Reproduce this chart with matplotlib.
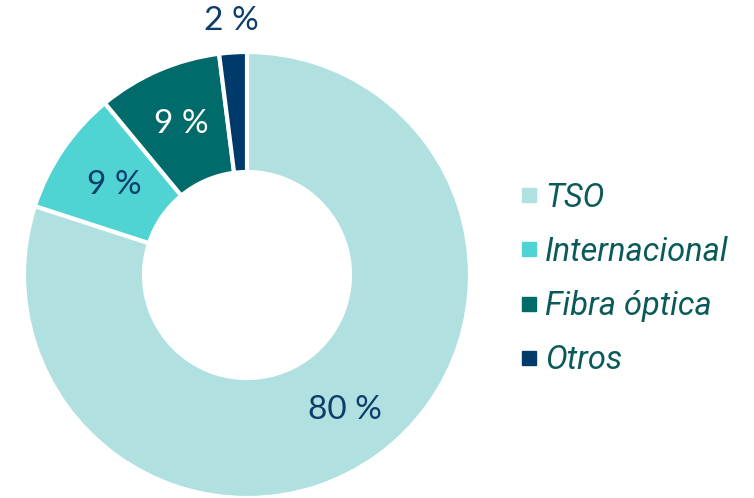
import matplotlib
matplotlib.use("Agg")
import matplotlib.pyplot as plt
from matplotlib.lines import Line2D
import numpy as np

categories = ["TSO", "Internacional", "Fibra óptica", "Otros"]
values = [80, 9, 9, 2]
pct_labels = ["80 %", "9 %", "9 %", "2 %"]
colors = ["#b0e0e0", "#4fd3d3", "#016b6b", "#003a6b"]
label_colors = ["#0d3d6b", "#0d3d6b", "#ffffff", "#0d3d6b"]
label_radius = [0.75, 0.72, 0.74, 1.14]

W, H = 754, 498
fig = plt.figure(figsize=(W / 100, H / 100), dpi=100)
cx, cy, r = 247, 275, 223
ax = fig.add_axes([(cx - r) / W, (H - cy - r) / H, 2 * r / W, 2 * r / H])

wedges, _ = ax.pie(values, colors=colors, startangle=90, counterclock=False,
                   radius=1, wedgeprops=dict(width=120 / 223, edgecolor="white", linewidth=3))
ax.set_xlim(-1, 1)
ax.set_ylim(-1, 1)
ax.set_aspect("equal")
ax.axis("off")

for w, lab, col, rr in zip(wedges, pct_labels, label_colors, label_radius):
    ang = np.deg2rad((w.theta1 + w.theta2) / 2)
    ax.text(rr * np.cos(ang), rr * np.sin(ang), lab, ha="center", va="center",
            color=col, fontsize=24, family="Lato", clip_on=False)

handles = [Line2D([], [], marker="s", linestyle="none", markersize=9.5,
                  markerfacecolor=c, markeredgecolor=c) for c in colors]
fig.legend(handles, categories, loc="center left", bbox_to_anchor=(491 / W, 1 - 279 / H),
           frameon=False, handlelength=0.5, handletextpad=0.25, labelspacing=0.68,
           prop=dict(family="Roboto", style="italic", size=23.5), labelcolor="#0b5a5a")

fig.savefig("out.png", dpi=100)
